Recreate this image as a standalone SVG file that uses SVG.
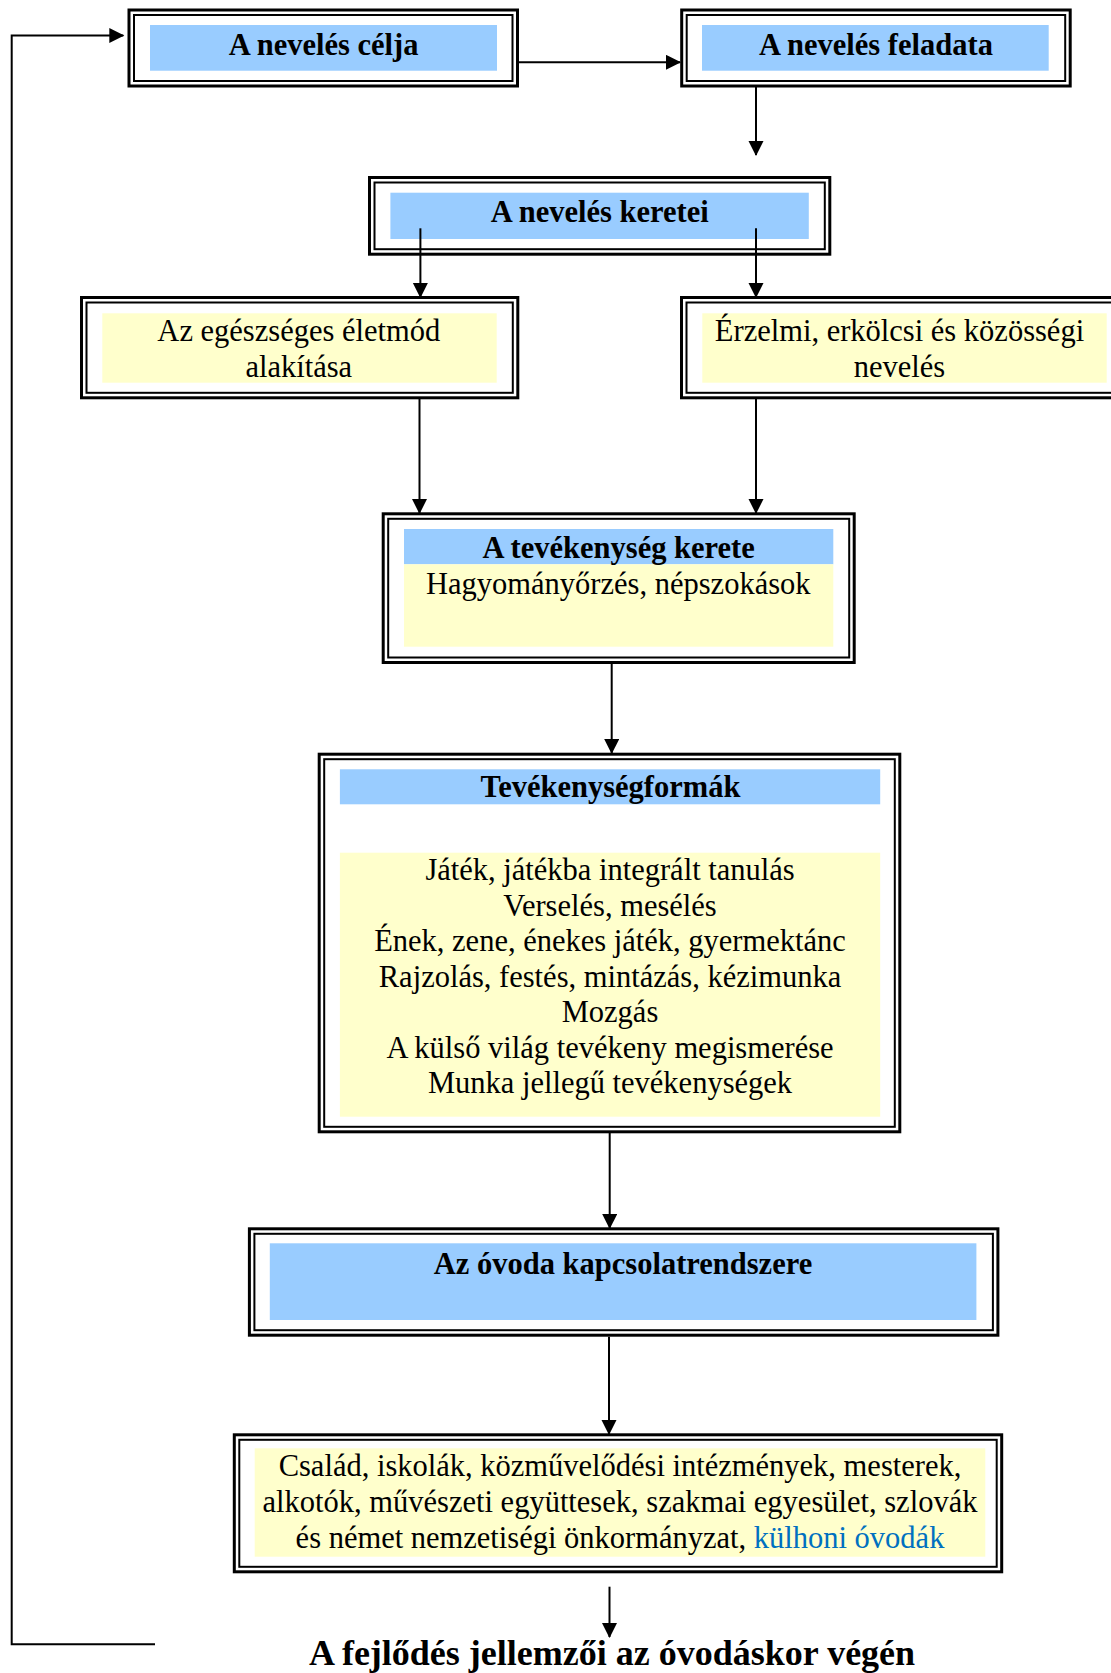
<svg xmlns="http://www.w3.org/2000/svg" width="1111" height="1673" viewBox="0 0 1111 1673">
<style>
.ob{fill:none;stroke:#000;stroke-width:3}
.ib{fill:none;stroke:#000;stroke-width:2}
.bl{fill:#99CCFF}
.ye{fill:#FFFFCC}
.t{font-family:"Liberation Serif","Times New Roman",serif;font-size:30.5px;fill:#000;text-anchor:middle}
.b{font-weight:bold}
.c{fill:none;stroke:#000;stroke-width:2}
</style>
<defs>
<marker id="ah" markerUnits="userSpaceOnUse" markerWidth="16" markerHeight="16" refX="14" refY="7.5" orient="auto">
<path d="M0,0 L15,7.5 L0,15 Z" fill="#000"/>
</marker>
</defs>
<rect width="1111" height="1673" fill="#fff"/>

<g id="n-celja">
<rect class="ob" x="129" y="10" width="388.5" height="76"/>
<rect class="ib" x="134" y="15" width="378.5" height="66"/>
<rect class="bl" x="150" y="25" width="347" height="45.7"/>
<text class="t b" x="323.6" y="55">A nevelés célja</text>
</g>

<g id="n-feladata">
<rect class="ob" x="681.7" y="10" width="388.5" height="76"/>
<rect class="ib" x="686.7" y="15" width="378.5" height="66"/>
<rect class="bl" x="702" y="25" width="346.7" height="45.7"/>
<text class="t b" x="876" y="55">A nevelés feladata</text>
</g>

<g id="n-keretei">
<rect class="ob" x="369.5" y="177.5" width="460.3" height="76.7"/>
<rect class="ib" x="374.5" y="182.5" width="450.3" height="66.7"/>
<rect class="bl" x="390.4" y="192.7" width="418.4" height="46.3"/>
<text class="t b" x="599.7" y="221.7">A nevelés keretei</text>
</g>

<g id="n-egeszseges">
<rect class="ob" x="81.5" y="297.5" width="436.3" height="100.3"/>
<rect class="ib" x="86.5" y="302.5" width="426.3" height="90.3"/>
<rect class="ye" x="102.3" y="313.3" width="394.4" height="69.4"/>
<text class="t" x="298.8" y="341">Az egészséges életmód</text>
<text class="t" x="298.8" y="376.7">alakítása</text>
</g>

<g id="n-erzelmi">
<rect class="ob" x="681.5" y="297.5" width="445" height="100.3"/>
<rect class="ib" x="686.5" y="302.5" width="435" height="90.3"/>
<rect class="ye" x="702.3" y="313.3" width="404.4" height="69.4"/>
<text class="t" x="899.5" y="341">Érzelmi, erkölcsi és közösségi</text>
<text class="t" x="899.5" y="376.7">nevelés</text>
</g>

<g id="n-kerete">
<rect class="ob" x="383.2" y="513.8" width="471" height="148.7"/>
<rect class="ib" x="388.2" y="518.8" width="461" height="138.7"/>
<rect class="bl" x="404" y="529" width="429.3" height="35.3"/>
<rect class="ye" x="404" y="564.3" width="429.3" height="82.4"/>
<text class="t b" x="618.7" y="558.3">A tevékenység kerete</text>
<text class="t" x="618.3" y="594">Hagyományőrzés, népszokások</text>
</g>

<g id="n-formak">
<rect class="ob" x="319.2" y="754.2" width="580.6" height="377.6"/>
<rect class="ib" x="324.2" y="759.2" width="570.6" height="367.6"/>
<rect class="bl" x="339.9" y="769.3" width="540.3" height="35"/>
<rect class="ye" x="339.9" y="852.7" width="540.3" height="264"/>
<text class="t b" x="610.5" y="797.3">Tevékenységformák</text>
<text class="t" x="610" y="880">Játék, játékba integrált tanulás</text>
<text class="t" x="610" y="915.5">Verselés, mesélés</text>
<text class="t" x="610" y="951">Ének, zene, énekes játék, gyermektánc</text>
<text class="t" x="610" y="986.5">Rajzolás, festés, mintázás, kézimunka</text>
<text class="t" x="610" y="1022">Mozgás</text>
<text class="t" x="610" y="1057.5">A külső világ tevékeny megismerése</text>
<text class="t" x="610" y="1093">Munka jellegű tevékenységek</text>
</g>

<g id="n-kapcsolat">
<rect class="ob" x="249.4" y="1228.8" width="748.5" height="106.4"/>
<rect class="ib" x="254.4" y="1233.8" width="738.5" height="96.4"/>
<rect class="bl" x="269.8" y="1243.3" width="706.6" height="76.7"/>
<text class="t b" x="623" y="1274">Az óvoda kapcsolatrendszere</text>
</g>

<g id="n-csalad">
<rect class="ob" x="234.3" y="1434.8" width="767.4" height="137"/>
<rect class="ib" x="239.3" y="1439.8" width="757.4" height="127"/>
<rect class="ye" x="254.7" y="1448.3" width="730.6" height="108.4"/>
<text class="t" x="620" y="1476">Család, iskolák, közművelődési intézmények, mesterek,</text>
<text class="t" x="620" y="1512">alkotók, művészeti együttesek, szakmai egyesület, szlovák</text>
<text class="t" x="620" y="1548">és német nemzetiségi önkormányzat, <tspan fill="#0070C0">külhoni óvodák</tspan></text>
</g>

<g id="n-fejlodes">
<text class="t b" x="612" y="1665" style="font-size:36px">A fejlődés jellemzői az óvodáskor végén</text>
</g>

<g id="connectors">
<path class="c" d="M519,62.3 H680" marker-end="url(#ah)"/>
<path class="c" d="M756,87 V155" marker-end="url(#ah)"/>
<path class="c" d="M420.4,228.3 V297" marker-end="url(#ah)"/>
<path class="c" d="M756,228.3 V297" marker-end="url(#ah)"/>
<path class="c" d="M419.5,399 V513" marker-end="url(#ah)"/>
<path class="c" d="M756,399 V513" marker-end="url(#ah)"/>
<path class="c" d="M611.7,664 V753" marker-end="url(#ah)"/>
<path class="c" d="M609.7,1133 V1228" marker-end="url(#ah)"/>
<path class="c" d="M609,1336.7 V1434" marker-end="url(#ah)"/>
<path class="c" d="M609.5,1586.7 V1637" marker-end="url(#ah)"/>
<path class="c" d="M155,1644.3 H11.7 V35.5 H123.3" marker-end="url(#ah)"/>
</g>
</svg>
